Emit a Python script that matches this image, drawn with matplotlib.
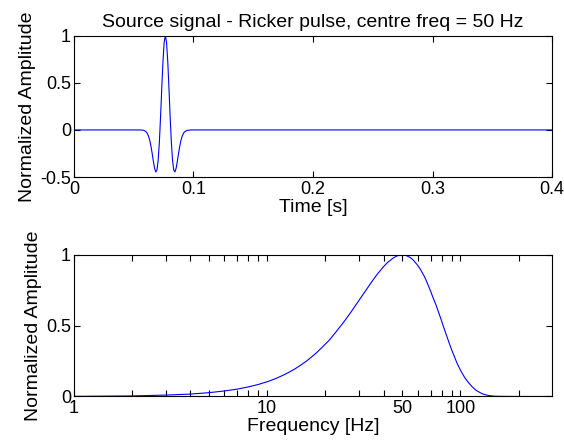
import matplotlib
matplotlib.use("Agg")
import matplotlib.pyplot as plt
from matplotlib.ticker import FixedLocator, FixedFormatter, NullFormatter

plt.rcParams['font.family'] = ['Liberation Sans', 'DejaVu Sans']

# ---- data: Ricker pulse (time domain) ----
time_s = [0.0, 0.0545, 0.0565, 0.0575, 0.0585, 0.0595, 0.0605, 0.0615, 0.0625,
          0.0635, 0.0645, 0.0655, 0.0665, 0.0675, 0.0685, 0.0695, 0.0705,
          0.0715, 0.0725, 0.0735, 0.0745, 0.0755, 0.0765, 0.0775, 0.0785,
          0.0795, 0.0805, 0.0815, 0.0825, 0.0835, 0.0845, 0.0855, 0.0865,
          0.0875, 0.0885, 0.0895, 0.0905, 0.0915, 0.0925, 0.0945, 0.0985, 0.4]
amp_time = [0.0, 0.0, -0.001, -0.002, -0.005, -0.011, -0.021, -0.039, -0.069,
            -0.113, -0.175, -0.251, -0.334, -0.406, -0.445, -0.423, -0.320,
            -0.126, 0.142, 0.445, 0.727, 0.928, 1.0, 0.928, 0.727,
            0.445, 0.142, -0.126, -0.320, -0.423, -0.445, -0.406, -0.334,
            -0.251, -0.175, -0.113, -0.069, -0.039, -0.021, -0.005, 0.0, 0.0]

# ---- data: amplitude spectrum ----
freq_hz = [1, 2, 3, 4, 5, 6, 7, 8, 9, 10, 11, 12, 13, 14, 15, 16, 17, 18, 19,
           21, 23, 25, 27, 30, 32, 35, 37, 40, 42, 45, 47, 50, 52, 55, 57,
           60, 62, 65, 67, 70, 72, 75, 77, 80, 82, 85, 87, 90, 92, 95, 97,
           100, 105, 110, 115, 120, 125, 130, 135, 140, 145, 150, 160, 200, 300]
amp_freq = [0.001, 0.004, 0.010, 0.017, 0.027, 0.039, 0.052, 0.068, 0.085,
            0.104, 0.125, 0.148, 0.172, 0.197, 0.224, 0.251, 0.280, 0.309,
            0.340, 0.399, 0.466, 0.529, 0.592, 0.683, 0.739, 0.816, 0.861,
            0.917, 0.947, 0.979, 0.993, 1.0, 0.997, 0.981, 0.963,
            0.927, 0.898, 0.848, 0.808, 0.745, 0.700, 0.640, 0.595, 0.530,
            0.485, 0.425, 0.385, 0.330, 0.297, 0.250, 0.222,
            0.185, 0.135, 0.098, 0.068, 0.045, 0.031, 0.018, 0.012, 0.007,
            0.004, 0.002, 0.001, 0.0, 0.0]

top_xticks = [0, 0.1, 0.2, 0.3, 0.4]
top_xticklabels = ['0', '0.1', '0.2', '0.3', '0.4']
top_yticks = [-0.5, 0, 0.5, 1]
top_yticklabels = ['-0.5', '0', '0.5', '1']
bot_xticks = [1, 10, 50, 100]
bot_xticklabels = ['1', '10', '50', '100']
bot_xminor = [2, 3, 4, 5, 6, 7, 8, 9, 20, 30, 40, 60, 70, 80, 90, 200, 300]
bot_yticks = [0, 0.5, 1]
bot_yticklabels = ['0', '0.5', '1']

FS = 14
TFS = 13
fig = plt.figure(figsize=(5.64, 4.44), dpi=100)
ax1 = fig.add_axes([0.131, 0.601, 0.848, 0.319])
ax2 = fig.add_axes([0.131, 0.107, 0.848, 0.319])

def style(ax):
    for s in ax.spines.values():
        s.set_linewidth(0.8)
        s.set_color('black')
    ax.tick_params(which='both', direction='in', top=True, right=True,
                   length=4, width=0.8, labelsize=TFS, pad=2.5)

ax1.plot(time_s, amp_time, color='#0000ff', lw=0.8)
ax1.set_xlim(0, 0.4)
ax1.set_ylim(-0.5, 1)
ax1.xaxis.set_major_locator(FixedLocator(top_xticks))
ax1.xaxis.set_major_formatter(FixedFormatter(top_xticklabels))
ax1.yaxis.set_major_locator(FixedLocator(top_yticks))
ax1.yaxis.set_major_formatter(FixedFormatter(top_yticklabels))
style(ax1)
ax1.tick_params(axis='y', pad=2)
ax1.set_title('Source signal - Ricker pulse, centre freq = 50 Hz', fontsize=FS, pad=6)
ax1.set_xlabel('Time [s]', fontsize=FS, labelpad=1)
ax1.set_ylabel('Normalized Amplitude', fontsize=FS, labelpad=3)

ax2.plot(freq_hz, amp_freq, color='#0000ff', lw=0.8)
ax2.set_xscale('log')
ax2.set_xlim(1, 298)
ax2.set_ylim(0, 1)
ax2.xaxis.set_major_locator(FixedLocator(bot_xticks))
ax2.xaxis.set_major_formatter(FixedFormatter(bot_xticklabels))
ax2.xaxis.set_minor_locator(FixedLocator(bot_xminor))
ax2.xaxis.set_minor_formatter(NullFormatter())
ax2.yaxis.set_major_locator(FixedLocator(bot_yticks))
ax2.yaxis.set_major_formatter(FixedFormatter(bot_yticklabels))
style(ax2)
ax2.tick_params(axis='y', pad=2)
ax2.set_xlabel('Frequency [Hz]', fontsize=FS, labelpad=1)
ax2.set_ylabel('Normalized Amplitude', fontsize=FS, labelpad=3)

fig.savefig('out.png', dpi=100)
